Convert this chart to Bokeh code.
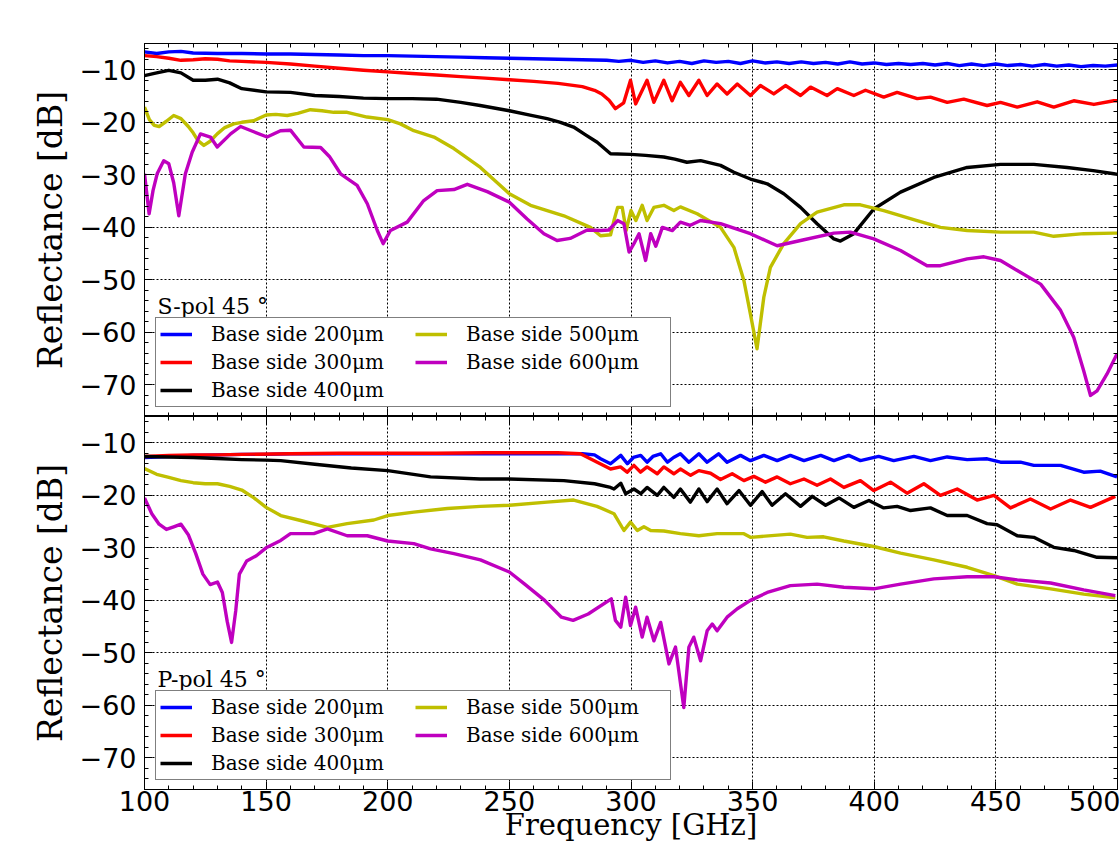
from bokeh.plotting import figure
from bokeh.models import (Range1d, LinearAxis, FixedTicker, Legend, LegendItem, Label,
                          CustomJSTickFormatter)
from bokeh.layouts import column
from bokeh.embed import file_html
from bokeh.resources import INLINE

# ---------------- data ----------------
LABELS = ["Base side 200\u03bcm", "Base side 300\u03bcm", "Base side 400\u03bcm",
          "Base side 500\u03bcm", "Base side 600\u03bcm"]
COLORS = ["#0000ff", "#ff0000", "#000000", "#bfbf00", "#bf00bf"]

# S-pol 45 deg
s200_f = [100, 105, 110, 115,
          120, 130, 140, 150, 160, 170, 180, 190, 200, 210, 220, 230, 240, 250, 260, 270, 280, 290,
          295, 300, 305, 310, 315, 320, 325, 330, 335, 340, 345, 350, 355, 360, 365, 370, 375, 380,
          385, 390, 395, 400, 405, 410, 415, 420, 425, 430, 435, 440, 445, 450, 455, 460, 465, 470,
          475, 480, 485, 490, 495, 500]
s200_db = [-6.6, -6.9, -6.6, -6.5,
           -6.8, -6.9, -6.9, -7.0, -7.0, -7.1, -7.2, -7.3, -7.3, -7.4, -7.5, -7.6, -7.7, -7.8, -7.9, -8.0, -8.1, -8.2,
           -8.4, -8.2, -8.6, -8.3, -8.7, -8.4, -8.8, -8.3, -8.6, -8.4, -8.8, -8.3, -8.7, -8.5, -8.8, -8.5, -8.8, -8.6,
           -8.9, -8.5, -8.9, -8.7, -9.0, -8.8, -9.0, -8.8, -9.1, -8.8, -9.2, -8.9, -9.2, -8.9, -9.2, -9.0, -9.3, -9.0,
           -9.3, -9.1, -9.4, -9.2, -9.3, -9.1]

s300_f = [100, 105, 110, 115, 120, 125, 130, 135, 140,
          150, 160, 170, 180, 190, 200, 210, 220, 230, 240, 250, 260, 270, 280,
          285, 288, 291, 293.6, 297, 299.8, 301.9, 306.6, 309.4, 313.5, 316.9, 320.3, 323.8, 327.9,
          331.3, 335.4, 339.5, 343.7, 349.1, 353.2, 358.7, 363.5, 369.7, 373.8, 380.6, 384.8, 391.6, 396.4,
          403.9, 409.4, 417.7, 423.1, 430, 436.8, 446.4, 451.9, 458.8, 467, 473.8, 482, 490.3, 498.5, 500]
s300_db = [-7.3, -7.5, -7.8, -8.2, -8.1, -7.9, -8.0, -8.3, -8.4,
           -8.6, -8.9, -9.3, -9.7, -10.1, -10.4, -10.7, -11.0, -11.3, -11.6, -11.9, -12.2, -12.6, -13.2,
           -13.9, -14.6, -15.8, -17.4, -16.3, -12.0, -16.5, -12.0, -16.2, -12.0, -15.9, -12.4, -14.9, -12.0,
           -14.9, -12.7, -14.6, -12.7, -14.9, -13.0, -14.6, -13.0, -14.9, -13.3, -14.9, -13.6, -14.9, -13.9,
           -15.2, -14.3, -15.5, -15.2, -16.2, -15.6, -16.8, -16.2, -17.1, -16.1, -17.1, -15.9, -16.6, -15.9, -15.9]

s400_f = [100, 105, 110, 115, 120, 125, 130, 135, 140,
          150, 160, 170, 180, 190, 200, 210, 220, 230,
          238, 250, 258, 265.5, 271, 276.4, 281, 286.1, 291.6,
          300, 306, 313.5, 318, 323, 328.6, 336.8, 342.3, 349.1,
          356, 362.8, 369.7, 376.5, 383.4, 386.1, 391.6, 399.8, 410.8,
          424.5, 438.2, 451.9, 465.6, 479.3, 490, 498.5, 500]
s400_db = [-11.1, -10.6, -10.1, -10.6, -12.0, -12.0, -11.8, -12.5, -13.6,
           -14.2, -14.3, -14.9, -15.1, -15.4, -15.5, -15.5, -15.6, -16.2,
           -16.8, -17.8, -18.6, -19.3, -20.0, -20.9, -22.3, -23.8, -26.0,
           -26.1, -26.3, -26.6, -27.0, -27.6, -27.3, -28.2, -29.5, -30.8,
           -31.7, -33.6, -36.2, -39.3, -42.2, -42.6, -41.2, -36.5, -33.3,
           -30.5, -28.6, -28.0, -28.0, -28.6, -29.2, -29.8, -29.9]

s500_f = [100, 102, 104, 106, 109, 112, 115, 118, 120, 122,
          124.4, 127, 129.9, 133, 136.7, 140, 144.9, 150, 154, 158.7,
          163, 168.2, 173, 177.8, 183.3, 191.5, 200, 205.2, 210.7, 219,
          227.2, 238.1, 250, 258.7, 272.4, 283.3, 287.5, 291.6, 293, 294.5,
          296.4, 298, 300, 302, 304.6, 306.6, 309.4, 313.5, 317.6, 320.3,
          327.2, 336.8, 342.3, 346.4, 349.1, 351.8, 354.6, 357.3, 362.8, 369.7,
          376.5, 387.5, 394.3, 403.9, 417.6, 427.2, 438.2, 451.9, 465.6, 473.8,
          486.1, 498.5, 500]
s500_db = [-17.1, -19.5, -20.6, -20.8, -19.8, -18.7, -19.3, -20.8, -22.0, -23.5,
           -24.4, -23.6, -22.2, -21.0, -20.3, -20.0, -19.7, -18.6, -18.5, -18.7,
           -18.3, -17.6, -17.8, -18.1, -18.1, -19.0, -19.5, -20.3, -21.6, -22.8,
           -25.0, -28.6, -33.6, -35.8, -37.8, -40.0, -41.6, -41.4, -38.7, -36.2,
           -36.2, -40.6, -36.8, -38.7, -35.8, -38.7, -36.2, -35.8, -36.8, -36.1,
           -37.4, -40.0, -43.8, -50.1, -56.5, -63.1, -53.3, -47.6, -43.1, -39.3,
           -37.1, -35.7, -35.7, -36.8, -38.7, -40.0, -40.6, -40.9, -40.9, -41.7,
           -41.2, -41.1, -41.1]

s600_f = [100, 101.9, 103.5, 105.2, 107.9, 110, 112, 114.1, 116.8, 119.6,
          123, 127.1, 129.9, 135.4, 139.5, 144.9, 150.4, 155.9, 160, 165.5,
          172.4, 176, 180.6, 187.4, 191.6, 195.7, 198.1, 201.1, 208, 214.8,
          220.3, 227.2, 232.7, 240.9, 250, 257.3, 264.2, 269.6, 275, 282,
          287.5, 290.9, 294.5, 297.1, 299.2, 301.2, 303.3, 306, 308.1, 310.2,
          312.9, 317, 320.3, 324.4, 328.6, 336.8, 349.1, 360.1, 369.7, 383.4,
          390.2, 399.8, 410.8, 421.7, 427.2, 438.2, 445.1, 451.9, 458.8, 468.4,
          476.6, 482, 486.1, 488.9, 491.6, 495.7, 499.8]
s600_db = [-29.8, -37.4, -33.0, -29.8, -27.3, -27.9, -31.5, -37.8, -29.8, -25.7,
           -22.2, -22.8, -24.7, -22.2, -20.8, -21.8, -22.8, -21.6, -21.5, -24.7,
           -24.8, -26.5, -29.8, -32.0, -35.5, -40.6, -43.1, -40.6, -39.0, -34.9,
           -33.0, -32.8, -31.8, -33.2, -35.2, -38.4, -41.2, -42.5, -42.1, -40.5,
           -40.6, -40.5, -38.7, -39.3, -44.7, -43.1, -41.2, -46.3, -41.2, -43.6,
           -40.0, -40.6, -39.0, -39.6, -38.7, -39.3, -41.2, -43.5, -42.5, -41.1,
           -40.9, -42.2, -44.4, -47.3, -47.3, -46.0, -45.6, -46.3, -48.2, -50.8,
           -55.8, -60.9, -67.3, -72.0, -71.1, -67.9, -64.1]

# P-pol 45 deg
p200_f = [100, 110, 120, 130, 140, 150, 160, 180, 200, 220,
          240, 260, 280, 285, 287.5, 291.6, 295.8, 298.5, 301, 304,
          306.6, 309, 312.2, 315, 317.5, 320.3, 323.8, 327.9, 331.3, 336,
          339.5, 345, 349.1, 354.6, 360.1, 365.5, 371.1, 378, 383.4, 389.5,
          394.3, 401.8, 408, 416.3, 423.1, 430, 438.2, 446.4, 451.9, 460.1,
          465.6, 476.6, 486.1, 492.9, 499.8]
p200_db = [-12.8, -12.6, -12.4, -12.3, -12.2, -12.2, -12.1, -12.1, -12.1, -12.1,
           -12.1, -12.1, -12.1, -12.3, -13.05, -14.0, -12.4, -14.0, -12.8, -12.4,
           -13.7, -12.6, -12.1, -13.7, -12.8, -12.1, -13.7, -12.1, -13.7, -12.1,
           -13.7, -12.4, -13.4, -12.4, -13.4, -12.4, -13.4, -12.4, -13.4, -12.4,
           -13.4, -12.6, -13.4, -12.6, -13.4, -12.7, -13.2, -13.05, -13.7, -13.7,
           -14.3, -14.3, -15.6, -15.4, -16.5]

p300_f = [100, 110, 120, 130, 140, 160, 180, 200, 220, 240,
          260, 270, 279.2, 286.1, 291.6, 295.7, 298.4, 301.2, 303.9, 306.6,
          310.8, 313.5, 317.6, 320.3, 324.5, 327.9, 332.7, 336.8, 341.6, 346.4,
          350.5, 355.3, 360.1, 365.5, 371.1, 376.5, 382, 387.5, 394.3, 399.8,
          406.7, 413.5, 420.4, 427.2, 434.1, 442.3, 449.2, 456, 464.2, 472.5,
          480.7, 488.9, 499.1]
p300_db = [-12.6, -12.4, -12.3, -12.3, -12.2, -12.1, -12.0, -12.0, -12.0, -11.9,
           -11.9, -11.9, -12.1, -13.7, -15.0, -14.6, -15.6, -14.3, -15.6, -14.6,
           -15.9, -14.6, -15.9, -15.0, -16.2, -15.3, -15.8, -17.0, -15.9, -17.2,
           -16.4, -17.5, -16.5, -17.8, -16.9, -18.1, -16.9, -18.5, -17.2, -19.1,
           -17.5, -19.6, -17.8, -20.0, -18.8, -20.9, -20.0, -22.4, -20.7, -22.6,
           -20.9, -22.3, -20.2]

p400_f = [100, 110, 120, 130, 140, 150, 156, 170, 185, 200,
          217.6, 238, 250, 272.4, 285, 291.6, 293, 295.8, 297.8, 301.2,
          304, 306.6, 310.8, 313.5, 317.6, 320.3, 324.4, 327.9, 331.3, 335.4,
          339.5, 344.4, 349.1, 353.9, 358, 363.5, 369.7, 374.5, 380, 385.5,
          391.6, 397.8, 403.9, 409.4, 414.9, 423.1, 430, 438.2, 446.4, 450.5,
          458.8, 465.6, 473.8, 482, 491.6, 499.8]
p400_db = [-12.6, -12.7, -12.8, -13.0, -13.2, -13.3, -13.4, -14.1, -14.8, -15.3,
           -16.5, -16.9, -16.9, -17.2, -17.8, -18.5, -18.8, -17.7, -19.7, -18.8,
           -19.7, -18.5, -20.0, -18.5, -20.4, -18.8, -21.3, -18.8, -21.2, -18.8,
           -21.6, -19.1, -21.9, -19.3, -21.9, -19.7, -22.1, -20.2, -21.9, -20.5,
           -22.3, -21.0, -22.4, -22.1, -22.9, -22.4, -23.85, -23.85, -25.4, -25.6,
           -27.7, -28.0, -29.9, -30.5, -31.8, -31.9]

p500_f = [100, 105, 110, 115, 120, 125, 130, 135, 140, 145,
          150, 156, 164.2, 175.2, 183.3, 194.3, 200, 210.7, 224.5, 238.1,
          250, 265.5, 276.4, 286, 293, 297.1, 299.8, 302.6, 305.3, 308.1,
          313.5, 320.3, 327.9, 335.4, 346.4, 349.1, 365.5, 372.4, 379.2, 387.5,
          399.8, 410.8, 424.5, 438.2, 449.2, 458.8, 472.5, 486.1, 499.1]
p500_db = [-14.9, -16.0, -16.6, -17.2, -17.6, -17.8, -17.8, -18.3, -19.0, -20.5,
           -22.3, -23.85, -24.8, -26.1, -25.4, -24.7, -23.85, -23.2, -22.5, -22.1,
           -21.9, -21.3, -20.9, -22.1, -23.5, -26.7, -25.1, -26.7, -26.0, -26.7,
           -26.8, -27.3, -27.7, -27.3, -27.3, -28.0, -27.4, -28.0, -27.9, -28.7,
           -29.75, -31.0, -32.3, -33.7, -35.3, -36.9, -37.8, -38.8, -39.5]

p600_f = [100, 103, 106, 109, 112, 115, 118, 121, 124, 127,
          130, 132, 134, 135.8, 137.5, 139, 142, 146, 150, 156,
          160, 169.6, 175.2, 183.3, 191.6, 200, 210.7, 217.6, 227.2, 238.1,
          250, 256.3, 264.5, 271.4, 276.2, 282.4, 291.9, 293.6, 295.8, 297.8,
          299.8, 301.9, 304.6, 306.6, 309.4, 312.2, 315.6, 318.3, 321.7, 323.8,
          325.8, 328.6, 331.3, 333.4, 335.4, 339.5, 343.7, 349.1, 356, 365.5,
          376.5, 387.5, 399.8, 410.8, 424.5, 438.2, 449.2, 458.8, 472.5, 486.1,
          499.1]
p600_db = [-20.5, -23.5, -25.5, -26.5, -26.0, -25.5, -27.5, -31.0, -35.0, -37.0,
           -36.5, -38.5, -44.0, -48.0, -42.0, -35.0, -32.5, -31.5, -30.0, -28.6,
           -27.3, -27.3, -26.4, -27.7, -27.7, -28.7, -29.2, -30.2, -31.1, -32.3,
           -34.6, -36.9, -40.0, -43.2, -43.8, -42.6, -39.7, -43.8, -45.1, -39.4,
           -44.8, -41.3, -47.0, -43.2, -47.7, -44.2, -52.1, -48.9, -60.4, -48.9,
           -47.0, -51.5, -45.8, -44.5, -45.8, -43.2, -41.6, -40.0, -38.5, -37.2,
           -36.9, -37.5, -37.8, -36.9, -35.9, -35.5, -35.5, -36.1, -36.7, -38.0,
           -39.1]

S_SERIES = [(s200_f, s200_db), (s300_f, s300_db), (s400_f, s400_db), (s500_f, s500_db), (s600_f, s600_db)]
P_SERIES = [(p200_f, p200_db), (p300_f, p300_db), (p400_f, p400_db), (p500_f, p500_db), (p600_f, p600_db)]
for fx, fy in S_SERIES + P_SERIES:
    assert len(fx) == len(fy), (len(fx), len(fy))

X_MAJOR = [100, 150, 200, 250, 300, 350, 400, 450, 500]
X_MINOR = list(range(100, 501, 10))
Y_MAJOR = [-70, -60, -50, -40, -30, -20, -10]
Y_MINOR = list(range(-76, -5, 2))

SERIF = "DejaVu Serif"
SANS = "DejaVu Sans"


def tick_only(ax):
    # an axis that shows ticks only (matplotlib-style ticks on every side)
    ax.major_label_text_font_size = "1px"
    ax.major_label_text_color = None
    ax.major_label_standoff = 0


def make_panel(height, border_top, border_bottom, series, pol_text, show_x_labels):
    p = figure(width=1120, height=height, output_backend="svg", toolbar_location=None,
               x_range=Range1d(100, 500), y_range=Range1d(-76, -5),
               min_border_left=144, min_border_right=3,
               min_border_top=border_top, min_border_bottom=border_bottom)
    p.outline_line_color = "black"
    p.outline_line_width = 1
    p.background_fill_color = "white"
    p.border_fill_color = "white"

    p.add_layout(LinearAxis(), "above")
    p.add_layout(LinearAxis(), "right")

    xt = FixedTicker(ticks=X_MAJOR, minor_ticks=X_MINOR)
    yt = FixedTicker(ticks=Y_MAJOR, minor_ticks=Y_MINOR)
    fmt = CustomJSTickFormatter(code="return (tick < 0 ? '\\u2212' : '') + Math.abs(tick).toFixed(0);")

    for ax in p.xaxis:
        ax.ticker = xt
    for ax in p.yaxis:
        ax.ticker = yt
    for ax in p.axis:
        ax.formatter = fmt
        ax.major_tick_in = 8
        ax.major_tick_out = 0
        ax.minor_tick_in = 4
        ax.minor_tick_out = 0
        ax.major_tick_line_color = "black"
        ax.minor_tick_line_color = "black"
        ax.axis_line_color = "black"
        ax.major_label_text_font = SANS
        ax.major_label_text_font_size = "27px"
        ax.major_label_text_color = "black"
    tick_only(p.above[0])
    tick_only(p.right[0])
    bottom = p.below[0]
    if not show_x_labels:
        tick_only(bottom)
    else:
        bottom.major_label_standoff = 1
        bottom.axis_label = "Frequency [GHz]"
        bottom.axis_label_text_font = SERIF
        bottom.axis_label_text_font_size = "29px"
        bottom.axis_label_text_font_style = "normal"
        bottom.axis_label_text_color = "black"
        bottom.axis_label_standoff = -6

    left = p.left[0]
    left.major_label_standoff = 8
    left.axis_label = "Reflectance [dB]"
    left.axis_label_text_font = SERIF
    left.axis_label_text_font_size = "33px"
    left.axis_label_text_font_style = "normal"
    left.axis_label_text_color = "black"
    left.axis_label_standoff = 7

    p.xgrid.ticker = xt
    p.ygrid.ticker = yt
    for g in (p.xgrid[0], p.ygrid[0]):
        g.grid_line_color = "black"
        g.grid_line_dash = "2 2"
        g.grid_line_width = 1

    renderers = []
    for (fx, fy), col in zip(series, COLORS):
        r = p.line(fx, fy, line_color=col, line_width=3.4, line_join="round")
        renderers.append(r)

    p.add_layout(Label(x=105.3, y=-55, text=pol_text, text_font=SERIF,
                       text_font_size="22px", text_baseline="alphabetic", text_color="black"))

    items = [LegendItem(label=lab, renderers=[r]) for lab, r in zip(LABELS, renderers)]
    leg = Legend(items=items, location=(11, 9), nrows=3)
    leg.label_text_font = SERIF
    leg.label_text_font_size = "20px"
    leg.label_text_color = "black"
    leg.glyph_width = 32
    leg.glyph_height = 20
    leg.label_height = 20
    leg.label_width = 200
    leg.label_standoff = 19
    leg.spacing = 4
    leg.padding = 4
    leg.margin = 0
    leg.border_line_color = "black"
    leg.border_line_width = 1
    leg.background_fill_color = "white"
    leg.background_fill_alpha = 1
    p.add_layout(leg, "center")
    return p


p_top = make_panel(416, 43, 0, S_SERIES, "S-pol 45 \u00b0", False)
p_bot = make_panel(428, 0, 55, P_SERIES, "P-pol 45 \u00b0", True)

layout = column(p_top, p_bot, spacing=0)
open("out.html", "w").write(file_html(layout, INLINE))
